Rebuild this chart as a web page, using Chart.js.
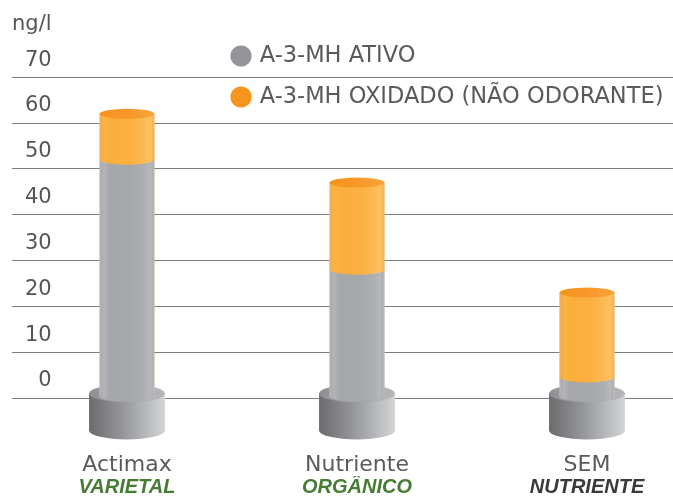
<!DOCTYPE html>
<html>
<head>
<meta charset="utf-8">
<script src="https://cdn.jsdelivr.net/npm/chart.js@4.4.1/dist/chart.umd.min.js"></script>
<style>
  html, body { margin: 0; padding: 0; background: #ffffff; overflow: hidden; }
  #wrap { width: 673px; height: 499px; overflow: hidden; position: relative; }
  #c { position: absolute; left: 0; top: 0; }
</style>
</head>
<body>
<div id="wrap"><canvas id="c" width="702" height="499"></canvas></div>
<script>
// ---- data ----
const categories = ['Actimax', 'Nutriente', 'SEM'];
const subLabels = ['VARIETAL', 'ORGÂNICO', 'NUTRIENTE'];
const seriesNames = ['A-3-MH ATIVO', 'A-3-MH OXIDADO (NÃO ODORANTE)'];
const ativo = [52, 28, 4.5];
const oxidado = [10, 19, 18.5];
const unitLabel = 'ng/l';

// ---- styles ----
const FONT = 'DejaVu Sans';
const subColors = ['#477c35', '#477c35', '#3a3a3a'];
const grayColor = '#939598';
const orangeColor = '#f7941d';

function hGrad(ctx, x0, x1, stops) {
  const g = ctx.createLinearGradient(x0, 0, x1, 0);
  stops.forEach(s => g.addColorStop(s[0], s[1]));
  return g;
}

function cylBody(ctx, x, top, bottom, rx, ry, fill) {
  ctx.beginPath();
  ctx.moveTo(x - rx, top);
  ctx.lineTo(x - rx, bottom);
  ctx.ellipse(x, bottom, rx, ry, 0, Math.PI, 0, true);
  ctx.lineTo(x + rx, top);
  ctx.closePath();
  ctx.fillStyle = fill;
  ctx.fill();
}

const cylinderPlugin = {
  id: 'cylinders',
  beforeDatasetsDraw(chart) {
    const ctx = chart.ctx;
    const m0 = chart.getDatasetMeta(0);
    const m1 = chart.getDatasetMeta(1);
    ctx.save();
    m0.data.forEach((g, i) => {
      const o = m1.data[i];
      const x = g.x, w = g.width, rx = w / 2, ry = 5;
      const base = g.base;
      // pedestal
      const prx = w * 0.69, pry = 9, pTop = base - 4, pBot = base + 33;
      cylBody(ctx, x, pTop, pBot, prx, pry, hGrad(ctx, x - prx, x + prx, [
        [0, '#6b6b6e'], [0.45, '#96979a'], [1, '#d3d4d6']]));
      ctx.beginPath();
      ctx.ellipse(x, pTop, prx, pry, 0, 0, Math.PI * 2);
      ctx.fillStyle = hGrad(ctx, x - prx, x + prx, [[0, '#8e8f92'], [1, '#b6b7b9']]);
      ctx.fill();
      // gray segment
      cylBody(ctx, x, g.y, base - 1, rx, ry, hGrad(ctx, x - rx, x + rx, [
        [0, '#a3a4a7'], [0.08, '#b4b5b8'], [0.18, '#a6a7aa'], [0.55, '#a7a8ab'],
        [0.8, '#adaeb1'], [0.92, '#b8b9bc'], [1, '#a8a9ac']]));
      // orange segment
      cylBody(ctx, x, o.y, o.base, rx, ry, hGrad(ctx, x - rx, x + rx, [
        [0, '#f9a22c'], [0.08, '#fbb345'], [0.2, '#fbae3b'], [0.55, '#fbb040'],
        [0.8, '#fcba52'], [0.93, '#fdc265'], [1, '#f9a73a']]));
      // thin light edges
      ctx.strokeStyle = 'rgba(225,200,190,0.7)';
      ctx.lineWidth = 1;
      ctx.beginPath();
      ctx.moveTo(x - rx + 0.5, o.y); ctx.lineTo(x - rx + 0.5, base);
      ctx.moveTo(x + rx - 0.5, o.y); ctx.lineTo(x + rx - 0.5, base);
      ctx.stroke();
      // top cap
      ctx.beginPath();
      ctx.ellipse(x, o.y, rx, ry, 0, 0, Math.PI * 2);
      ctx.fillStyle = hGrad(ctx, x - rx, x + rx, [[0, '#f7931c'], [0.5, '#f8982a'], [1, '#f9a23a']]);
      ctx.fill();
    });
    ctx.restore();
    return false;
  }
};

const legendPlacer = {
  id: 'legendPlacer',
  afterLayout(chart) {
    const lg = chart.legend;
    if (!lg) return;
    lg.left = 215;
    lg.right = 702;
    lg.top = 26.25;
    lg.bottom = 300;
    lg.width = lg.right - lg.left;
    lg.height = lg.bottom - lg.top;
  }
};

new Chart(document.getElementById('c'), {
  type: 'bar',
  data: {
    labels: categories,
    datasets: [
      { label: seriesNames[0], data: ativo, backgroundColor: grayColor, borderWidth: 0, barThickness: 55 },
      { label: seriesNames[1], data: oxidado, backgroundColor: orangeColor, borderWidth: 0, barThickness: 55 }
    ]
  },
  options: {
    responsive: false,
    animation: false,
    devicePixelRatio: 1,
    layout: { padding: { left: 12, right: 0, top: 0, bottom: 2 } },
    plugins: {
      title: {
        display: true, text: unitLabel, align: 'start', color: '#555555',
        font: { family: FONT, size: 21, weight: 'normal', lineHeight: 1.2 },
        padding: { top: 12, bottom: 40 }
      },
      legend: {
        position: 'chartArea', align: 'start',
        labels: {
          usePointStyle: true, pointStyle: 'circle', boxWidth: 15, boxHeight: 15,
          padding: 18.5, color: '#5a5a5a', font: { family: FONT, size: 22.5 }
        }
      },
      tooltip: { enabled: false }
    },
    scales: {
      x: {
        type: 'category', stacked: true, offset: true, weight: 0,
        grid: { display: false, drawTicks: false }, border: { display: false },
        ticks: { padding: 56, color: '#5a5a5a', font: { family: FONT, size: 22, lineHeight: 1 }, maxRotation: 0, autoSkip: false },
        afterFit: s => { s.height = 78; }
      },
      x2: {
        type: 'category', labels: subLabels, position: 'bottom', offset: true, weight: 1,
        grid: { display: false, drawTicks: false }, border: { display: false },
        ticks: { padding: 1, color: c => subColors[c.index], font: { family: 'Liberation Sans', size: 20, weight: 'bold', style: 'italic', lineHeight: 1 }, maxRotation: 0, autoSkip: false },
        afterFit: s => { s.height = 21; }
      },
      y: {
        stacked: true, min: 0, max: 70,
        ticks: { stepSize: 10, mirror: true, crossAlign: 'far', padding: 13, labelOffset: -17, color: '#555555', font: { family: FONT, size: 21 } },
        grid: { color: '#7d7d7d', lineWidth: 1, drawTicks: false },
        border: { display: false },
        afterFit: s => { s.width = 0; }
      }
    }
  },
  plugins: [cylinderPlugin, legendPlacer]
});
</script>
</body>
</html>
